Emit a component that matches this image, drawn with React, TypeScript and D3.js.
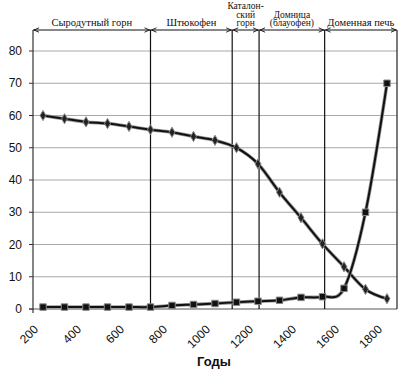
import React, { useEffect, useRef } from "react";
import * as d3 from "d3";

const years = [200, 300, 400, 500, 600, 700, 800, 900, 1000, 1100, 1200, 1300, 1400, 1500, 1600, 1700, 1800];
const bloomery = [60, 59, 58, 57.5, 56.6, 55.6, 54.8, 53.5, 52.3, 50, 45, 36.2, 28.3, 20.2, 13.1, 6.1, 3.2];
const blastFurnace = [0.6, 0.6, 0.6, 0.6, 0.6, 0.6, 1.1, 1.4, 1.7, 2.1, 2.4, 2.7, 3.6, 3.8, 6.4, 30, 70];
const xTicks = [200, 400, 600, 800, 1000, 1200, 1400, 1600, 1800];
const yTicks = [0, 10, 20, 30, 40, 50, 60, 70, 80];
const boundaries = [700, 1080, 1205, 1510];
const periods = [
  { name: ["Сыродутный горн"], from: 0, to: 1 },
  { name: ["Штюкофен"], from: 1, to: 2 },
  { name: ["Каталон-", "ский", "горн"], from: 2, to: 3 },
  { name: ["Домница", "(блауофен)"], from: 3, to: 4 },
  { name: ["Доменная печь"], from: 4, to: 5 },
];

const W = 404, H = 372;

const App = () => {
  const ref = useRef<SVGSVGElement | null>(null);

  useEffect(() => {
    const svg = d3.select(ref.current);
    svg.selectAll("*").remove();

    const left = 33, right = 397, top = 30;
    const x = d3.scaleLinear().domain([200, 1800]).range([43, 387]);
    const y = d3.scaleLinear().domain([0, 80]).range([309, 51]);

    // grid
    svg.append("g").selectAll("line").data(yTicks.filter((d) => d > 0)).join("line")
      .attr("x1", left).attr("x2", right)
      .attr("y1", (d) => y(d)).attr("y2", (d) => y(d))
      .attr("stroke", "#a8a8a8").attr("stroke-width", 1);
    svg.append("line").attr("x1", left - 4).attr("x2", right).attr("y1", y(0)).attr("y2", y(0))
      .attr("stroke", "#555").attr("stroke-width", 1.2);

    // y ticks and labels
    svg.append("g").selectAll("line").data(yTicks).join("line")
      .attr("x1", left - 4).attr("x2", left).attr("y1", (d) => y(d)).attr("y2", (d) => y(d))
      .attr("stroke", "#333");
    svg.append("g").selectAll("text").data(yTicks).join("text")
      .attr("x", 22).attr("y", (d) => y(d)).attr("dy", "0.35em")
      .attr("text-anchor", "end")
      .attr("font-family", "Liberation Sans, Arial, sans-serif").attr("font-size", 12)
      .attr("fill", "#111")
      .text((d) => d);

    // frame
    svg.append("line").attr("x1", left).attr("x2", left).attr("y1", top).attr("y2", y(0) + 4)
      .attr("stroke", "#333").attr("stroke-width", 1.2);
    svg.append("line").attr("x1", right).attr("x2", right).attr("y1", top).attr("y2", y(0))
      .attr("stroke", "#222").attr("stroke-width", 1.2);

    // period boundaries
    svg.append("g").selectAll("line").data(boundaries).join("line")
      .attr("x1", (d) => x(d)).attr("x2", (d) => x(d)).attr("y1", top).attr("y2", y(0))
      .attr("stroke", "#111").attr("stroke-width", 1.2);

    // band with arrows
    const edges = [left, ...boundaries.map((d) => x(d)), right];
    svg.append("line").attr("x1", left).attr("x2", right).attr("y1", top).attr("y2", top)
      .attr("stroke", "#111").attr("stroke-width", 1);
    const arrows = svg.append("g");
    periods.forEach((p) => {
      const a = edges[p.from] + 1, b = edges[p.to] - 1;
      arrows.append("path").attr("d", `M${a + 5},${top - 2.2}L${a},${top}L${a + 5},${top + 2.2}`)
        .attr("fill", "none").attr("stroke", "#111").attr("stroke-width", 0.9);
      arrows.append("path").attr("d", `M${b - 5},${top - 2.2}L${b},${top}L${b - 5},${top + 2.2}`)
        .attr("fill", "none").attr("stroke", "#111").attr("stroke-width", 0.9);
      const cx = (edges[p.from] + edges[p.to]) / 2;
      const n = p.name.length;
      const fs = n > 1 ? 9.5 : 10.5;
      const t = arrows.append("text").attr("text-anchor", "middle")
        .attr("font-family", "Liberation Serif, Times New Roman, serif").attr("font-size", fs)
        .attr("fill", "#111");
      p.name.forEach((s, i) => {
        t.append("tspan").attr("x", cx).attr("y", top - 4 - (n - 1 - i) * 8.5).text(s);
      });
    });

    // x labels
    svg.append("g").selectAll("text").data(xTicks).join("text")
      .attr("transform", (d) => `translate(${x(d) - 4},${330}) rotate(-45)`)
      .attr("text-anchor", "end")
      .attr("font-family", "Liberation Sans, Arial, sans-serif").attr("font-size", 12)
      .attr("fill", "#111")
      .text((d) => d);
    svg.append("text").attr("x", 214).attr("y", 366).attr("text-anchor", "middle")
      .attr("font-family", "Liberation Sans, Arial, sans-serif").attr("font-size", 13)
      .attr("font-weight", "bold").attr("fill", "#111").text("Годы");

    // series
    const line = d3.line<number>()
      .x((d, i) => x(years[i]))
      .y((d) => y(d))
      .curve(d3.curveCatmullRom.alpha(0));

    [bloomery, blastFurnace].forEach((s) => {
      svg.append("path").datum(s).attr("d", line).attr("fill", "none")
        .attr("stroke", "#999").attr("stroke-width", 3.6).attr("stroke-linejoin", "round");
      svg.append("path").datum(s).attr("d", line).attr("fill", "none")
        .attr("stroke", "#111").attr("stroke-width", 2).attr("stroke-linejoin", "round");
    });

    const diamond = d3.symbol().type(d3.symbolDiamond).size(30);
    svg.append("g").selectAll("path").data(bloomery).join("path")
      .attr("transform", (d, i) => `translate(${x(years[i])},${y(d)})`)
      .attr("d", diamond)
      .attr("fill", "#222").attr("stroke", "#888").attr("stroke-width", 1);

    const square = d3.symbol().type(d3.symbolSquare).size(42);
    svg.append("g").selectAll("path").data(blastFurnace).join("path")
      .attr("transform", (d, i) => `translate(${x(years[i])},${y(d)})`)
      .attr("d", square)
      .attr("fill", "#111").attr("stroke", "#888").attr("stroke-width", 1);
  }, []);

  return (
    <div style={{ position: "absolute", left: 0, top: 0, background: "#fff" }}>
      <svg ref={ref} width={W} height={H} style={{ display: "block" }} />
    </div>
  );
};

export default App;
